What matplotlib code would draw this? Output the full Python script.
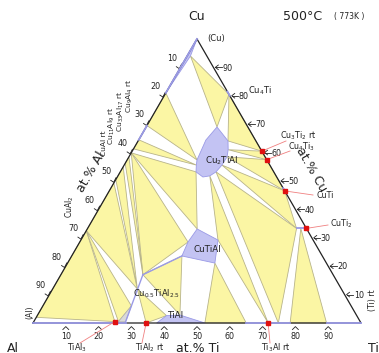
import numpy as np
import matplotlib
matplotlib.use("Agg")
import matplotlib.pyplot as plt
from matplotlib.patches import Polygon

# ---- phase-region corner compositions, at.% (Cu, Ti); Al = 100 - Cu - Ti ----
pts = {
    "Cu": (100, 0), "CuSS_tip": (94, 1), "CuSS_edge": (81, 0),
    "Cu4Ti": (80.5, 19.5), "Cu3Ti2": (60.5, 39.5), "Cu4Ti3": (57.5, 42.5),
    "CuTi": (46.5, 53.5), "CuTi2_out": (33.3, 66.7), "CuTi2_in": (33.3, 63.7),
    "CuTi2_mid": (33.3, 65.0),
    "TiSS": (0, 89.5), "Ti": (0, 100),
    "Ti3Al_R": (0, 78.4), "Ti3Al_B": (0, 74.8), "Ti3Al_A": (0, 71.7), "Ti3Al_L": (0, 65),
    "TiAl_R": (0, 52.4), "TiAl_L": (0, 37.7), "TiAl_TL": (2.6, 39.4), "TiAl_TR": (2.8, 43.4),
    "TiAl2": (0, 34.5),
    "Q0": (0.5, 28), "Qg": (6, 27), "Q2": (12, 25.8), "Q1": (17, 25),
    "TiAl3": (0.5, 24.7), "TiAl3_b": (0.5, 25.8),
    "AlSS": (2, 0), "Al": (0, 0),
    "CuAl2": (32.5, 0), "L6": (49.3, 0), "CuAl": (50.5, 0), "L4": (55, 0),
    "Cu11Al9": (56.2, 0), "L2": (58.5, 0), "L1": (59.9, 0), "Cu33Al17": (61.3, 0),
    "Cu9Al4_B": (64.5, 0), "Cu9Al4_A": (69.5, 0),
    "C1": (69, 21.6), "C2": (64.1, 27.4), "C2b": (61, 29), "C3": (58.5, 29.9),
    "C34": (55.6, 29.8), "C4": (53.2, 29.2), "C45": (51.8, 28.0), "C5": (51.4, 26.1),
    "C6": (53.2, 23.1), "C67": (55.6, 22.0), "C7": (57.4, 21.3), "C8": (64.4, 20.5),
    "T1": (33.1, 33.5), "T2": (29.2, 41.8), "T3": (21.1, 44.9), "T4": (23.6, 33.6),
    "T5": (28.5, 33.0),
}

# three-phase fields
three_phase = [
    ("CuSS_tip", "Cu4Ti", "C1"), ("CuSS_edge", "Cu9Al4_A", "C7"),
    ("Cu9Al4_B", "Cu33Al17", "C67"), ("Cu4Ti", "Cu3Ti2", "C2"),
    ("C2b", "Cu3Ti2", "Cu4Ti3"), ("C3", "Cu4Ti3", "CuTi"),
    ("C34", "CuTi", "CuTi2_in"), ("C4", "CuTi2_in", "Ti3Al_B"),
    ("C45", "T2", "Ti3Al_A"), ("T3", "TiAl_R", "Ti3Al_L"),
    ("CuTi2_mid", "Ti3Al_R", "TiSS"),
    ("L1", "C6", "T1"), ("L1", "T5", "Q1"), ("L2", "Cu11Al9", "Q1"),
    ("L4", "CuAl", "Q2"), ("L6", "CuAl2", "Q2"),
    ("AlSS", "CuAl2", "TiAl3"), ("CuAl2", "TiAl3_b", "Qg"),
    ("Q1", "T4", "TiAl_TR"), ("Q2", "TiAl2", "TiAl_TL"),
]

# single-phase fields
cu2tial = ["C1", "C2", "C2b", "C3", "C34", "C4", "C45", "C5", "C6", "C67", "C7", "C8"]
cutial = ["T1", "T2", "T3", "T4", "T5"]
tial = ["TiAl_L", "TiAl_TL", "TiAl_TR", "TiAl_R"]
cu_ss = ["Cu", "CuSS_edge", "CuSS_tip"]
grey_field = ["TiAl3_b", "Q0", "Qg"]

S3 = np.sqrt(3) / 2


def xy(name):
    cu, ti = pts[name]
    return (ti + cu / 2.0, cu * S3)


def cxy(cu, ti):
    return (ti + cu / 2.0, cu * S3)


W, H = 379, 353
fig = plt.figure(figsize=(W / 100, H / 100), dpi=100)
ax = fig.add_axes([0, 0, 1, 1])
sc = 3.28
ax.set_xlim(-33 / sc, (W - 33) / sc)
ax.set_ylim(-(H - 323) / sc, 323 / sc)
ax.axis("off")


def P(px, py):
    return ((px - 33) / sc, (323 - py) / sc)


YEL = "#fbf6a4"
BLU = "#c3c3f3"
BEDGE = "#9a9ae6"

for tri in three_phase:
    ax.add_patch(Polygon([xy(n) for n in tri], closed=True, facecolor=YEL,
                         edgecolor="#b8b48a", lw=0.6, zorder=2))

ax.add_patch(Polygon([xy(n) for n in grey_field], closed=True, facecolor="#d9d9d9",
                     edgecolor="#b0b0b0", lw=0.5, zorder=2))

for poly in (cu2tial, cutial, tial, cu_ss):
    ax.add_patch(Polygon([xy(n) for n in poly], closed=True, facecolor=BLU,
                         edgecolor=BEDGE, lw=0.6, zorder=3))

# Cu0.5TiAl2.5 solid solution line and its link to CuTiAl
for a, b in (("Q0", "Q1"), ("Q1", "T4")):
    (x0, y0), (x1, y1) = xy(a), xy(b)
    ax.plot([x0, x1], [y0, y1], color=BEDGE, lw=1.0, zorder=3)

# outer triangle
corners = [cxy(0, 0), cxy(0, 100), cxy(100, 0), cxy(0, 0)]
ax.plot(*zip(*corners), color="#222222", lw=0.9, zorder=4)

# binary single-phase ranges on the edges
edge_ranges = [((100, 0), (81, 0)), ((69.5, 0), (64.5, 0)),
               ((0, 0), (0, 24.5)), ((0, 25), (0, 28.3)),
               ((0, 65), (0, 78.4)), ((0, 89.5), (0, 100)),
               ((80, 20), (81.5, 18.5)), ((33.3, 63.7), (33.3, 66.7)),
               ((46, 54), (47.5, 52.5))]
for (c0, t0), (c1, t1) in edge_ranges:
    (x0, y0), (x1, y1) = cxy(c0, t0), cxy(c1, t1)
    ax.plot([x0, x1], [y0, y1], color=BEDGE, lw=1.3, zorder=5)

# ticks and labels
ticks = [10, 20, 30, 40, 50, 60, 70, 80, 90]
tk = dict(fontsize=5.8, color="#222222", ha="center", va="center", zorder=6)
for t in ticks:
    # bottom: at.% Ti
    x, y = cxy(0, t)
    ax.plot([x - 0.9, x, x + 0.9], [y - 2.0, y - 1.1, y - 2.0], color="#222222", lw=0.6)
    ax.text(x, y - 4.1, str(t), **tk)
    # right: at.% Cu
    x, y = cxy(t, 100 - t)
    ax.plot([x + 0.6, x + 2.6], [y, y], color="#222222", lw=0.6)
    ax.plot([x + 1.5, x + 0.6, x + 1.5], [y + 0.7, y, y - 0.7], color="#222222", lw=0.6)
    ax.text(x + 4.3, y - 0.2, str(t), **tk)
    # left: at.% Al
    x, y = cxy(100 - t, 0)
    ax.plot([x - 1.3, x - 0.4, x + 0.3], [y + 0.2, y - 0.4, y + 1.0], color="#222222", lw=0.6)
    ax.text(x - 2.7, y + 2.8, str(t), **tk)

lab = dict(color="#222222", ha="center", va="center", zorder=7)
ax.text(*P(197, 16), "Cu", fontsize=9, **lab)
ax.text(*P(303, 16), "500\u00b0C", fontsize=9, **lab)
ax.text(*P(349, 17), "( 773K )", fontsize=5.5, **lab)
ax.text(*P(13, 348), "Al", fontsize=9, **lab)
ax.text(*P(373, 348), "Ti", fontsize=9, **lab)
ax.text(*P(198, 348), "at.% Ti", fontsize=9, **lab)
ax.text(*P(311, 170), "at.% Cu", fontsize=9, rotation=-60, **lab)
ax.text(*P(91, 172), "at.% Al", fontsize=9, rotation=60, **lab)

ax.text(*P(216, 38), "(Cu)", fontsize=6.0, **lab)
ax.text(*P(260, 91), "Cu$_4$Ti", fontsize=6.0, **lab)
ax.text(*P(222, 161), "Cu$_2$TiAl", fontsize=6.3, **lab)
ax.text(*P(207, 249), "CuTiAl", fontsize=6.3, **lab)
ax.text(*P(175, 315), "TiAl", fontsize=6.3, **lab)
ax.text(*P(157, 294), "Cu$_{0.5}$TiAl$_{2.5}$", fontsize=6.0, **lab)
ax.text(*P(373, 300), "(Ti) rt", fontsize=5.6, rotation=90, **lab)
ax.text(*P(30, 312), "(Al)", fontsize=5.6, rotation=90, **lab)
ax.text(*P(70, 207), "CuAl$_2$", fontsize=5.6, rotation=90, **lab)
ax.text(*P(130, 96), "Cu$_9$Al$_4$ rt", fontsize=5.4, rotation=90, **lab)
ax.text(*P(121, 111), "Cu$_{33}$Al$_{17}$ rt", fontsize=5.4, rotation=90, **lab)
ax.text(*P(112, 126), "Cu$_{11}$Al$_9$ rt", fontsize=5.4, rotation=90, **lab)
ax.text(*P(104, 143), "CuAl rt", fontsize=5.4, rotation=90, **lab)

# labels with red leaders to binary phases
leaders = [
    ("Cu$_3$Ti$_2$ rt", (298, 136), (286, 141), "Cu3Ti2"),
    ("Cu$_4$Ti$_3$", (301, 147), (290, 151), "Cu4Ti3"),
    ("CuTi", (325, 196), (313, 195), "CuTi"),
    ("CuTi$_2$", (341, 224), (328, 225), "CuTi2_out"),
    ("TiAl$_3$", (77, 348), (80, 343), "TiAl3"),
    ("TiAl$_2$ rt", (150, 348), (142, 343), "TiAl2"),
    ("Ti$_3$Al rt", (276, 348), (270, 343), "Ti3Al_A"),
]
for text, tpos, lpos, ph in leaders:
    ax.text(*P(*tpos), text, fontsize=5.8, **lab)
    x1, y1 = xy(ph)
    x0, y0 = P(*lpos)
    ax.plot([x0, x1], [y0, y1], color="#f08080", lw=0.6, zorder=6)
    ax.plot([x1], [y1], marker="s", ms=2.2, color="#e01010", zorder=8)

fig.savefig("out.png", dpi=100)
